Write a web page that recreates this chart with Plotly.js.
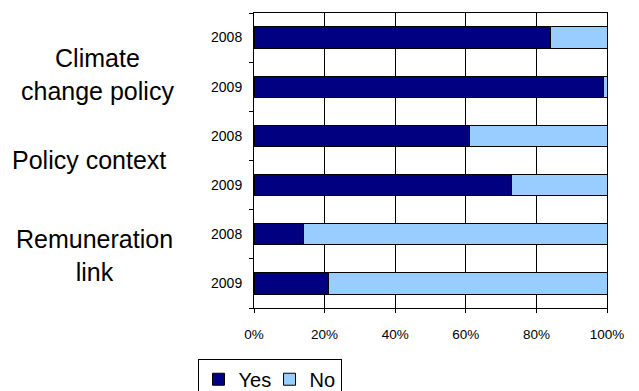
<!DOCTYPE html>
<html>
<head>
<meta charset="utf-8">
<script src="https://cdn.plot.ly/plotly-3.0.1.min.js"></script>
<style>html,body{margin:0;padding:0;background:#fff;}#chart{width:639px;height:391px;}</style>
</head>
<body>
<div id="chart"></div>
<script>
// ---- data ----
var groups = ['Climate<br>change policy', 'Policy context', 'Remuneration<br>link'];
var years = ['2008', '2009'];
var categoryIds = ['CCP 2008', 'CCP 2009', 'PC 2008', 'PC 2009', 'RL 2008', 'RL 2009'];
var yearLabels = ['2008', '2009', '2008', '2009', '2008', '2009'];
var yesValues = [84, 99, 61, 73, 14, 21];
var noValues = [16, 1, 39, 27, 86, 79];
var seriesNames = ['Yes', 'No'];
var xTickVals = [0, 20, 40, 60, 80, 100];
var xTickLabels = ['0%', '20%', '40%', '60%', '80%', '100%'];

var FONT = 'Arial, "Liberation Sans", sans-serif';

var traces = [
  {
    type: 'bar', orientation: 'h', name: seriesNames[0],
    x: yesValues, y: categoryIds,
    marker: {color: '#000080', line: {color: '#000000', width: 1}},
    width: 0.435, hoverinfo: 'skip'
  },
  {
    type: 'bar', orientation: 'h', name: seriesNames[1],
    x: noValues, y: categoryIds,
    marker: {color: '#99CCFF', line: {color: '#000000', width: 1}},
    width: 0.435, hoverinfo: 'skip'
  }
];

var groupPos = [
  {x: -0.443, y: 0.791},
  {x: -0.468, y: 0.503},
  {x: -0.452, y: 0.177}
];

var annotations = groups.map(function (g, i) {
  return {
    text: g, xref: 'paper', yref: 'paper',
    x: groupPos[i].x, y: groupPos[i].y,
    xanchor: 'center', yanchor: 'middle', align: 'center',
    showarrow: false,
    font: {family: FONT, size: 25, color: '#000'}
  };
});

var layout = {
  width: 639, height: 391,
  margin: {l: 254, r: 32, t: 13, b: 83, pad: 0, autoexpand: false},
  paper_bgcolor: '#fff', plot_bgcolor: '#fff',
  barmode: 'stack',
  font: {family: FONT, color: '#000'},
  showlegend: true,
  legend: {
    orientation: 'h', xref: 'paper', yref: 'paper',
    x: -0.16, y: -0.172, xanchor: 'left', yanchor: 'top',
    bordercolor: '#000', borderwidth: 1, bgcolor: '#fff',
    font: {family: FONT, size: 20, color: '#000'},
    traceorder: 'normal', itemclick: false, itemwidth: 30,
    entrywidthmode: 'pixels', entrywidth: 26
  },
  xaxis: {
    type: 'linear',
    range: [0, 100], tickmode: 'array', tickvals: xTickVals, ticktext: xTickLabels,
    showgrid: true, gridcolor: '#000000', gridwidth: 1, zeroline: false,
    showline: true, linecolor: '#000', linewidth: 1, mirror: true,
    ticks: 'outside', ticklen: 4, tickcolor: '#000', tickwidth: 1,
    ticklabelstandoff: 10,
    tickfont: {family: FONT, size: 13.5, color: '#000'},
    fixedrange: true
  },
  yaxis: {
    type: 'category', autorange: 'reversed',
    tickmode: 'array', tickvals: categoryIds, ticktext: yearLabels,
    tickson: 'boundaries',
    showgrid: false, zeroline: false,
    showline: true, linecolor: '#000', linewidth: 1, mirror: true,
    ticks: 'outside', ticklen: 4, tickcolor: '#000', tickwidth: 1,
    ticklabelstandoff: 8,
    tickfont: {family: FONT, size: 14, color: '#000'},
    fixedrange: true
  },
  annotations: annotations
};

Plotly.newPlot('chart', traces, layout, {displayModeBar: false, staticPlot: true});
</script>
</body>
</html>
